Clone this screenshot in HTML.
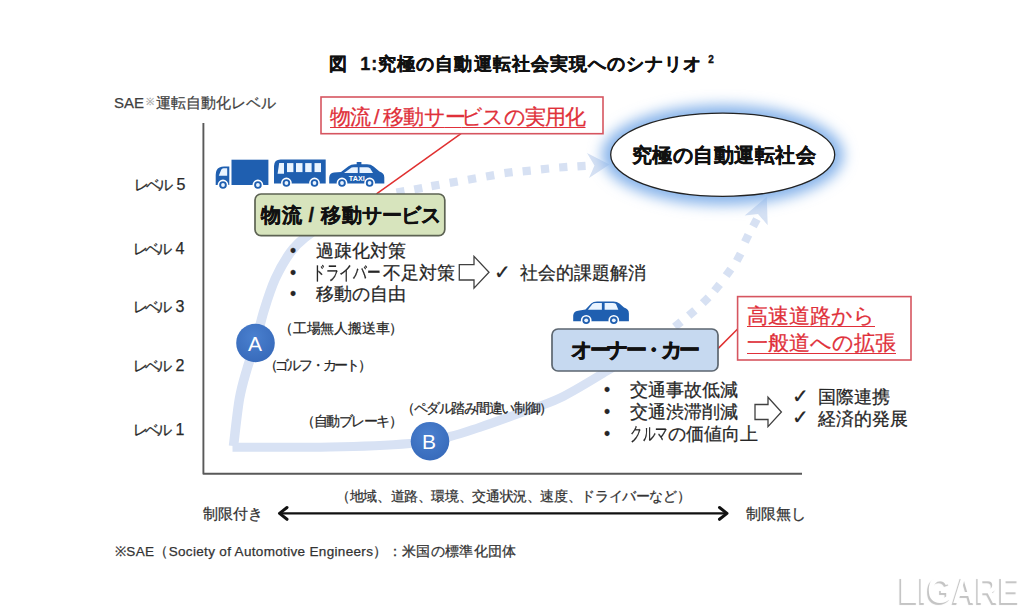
<!DOCTYPE html>
<html><head><meta charset="utf-8">
<style>
html,body{margin:0;padding:0;background:#fff;width:1024px;height:612px;overflow:hidden;}
body{position:relative;font-family:"Liberation Sans",sans-serif;color:#262626;}
.t{position:absolute;white-space:nowrap;line-height:1;-webkit-text-stroke:0.25px currentColor;}
.t u{text-decoration-thickness:1.4px;text-underline-offset:3.2px;}
.b{-webkit-text-stroke:0.35px currentColor;}
svg{position:absolute;left:0;top:0;}
</style></head><body>
<svg width="1024" height="612" viewBox="0 0 1024 612">
  <defs>
    <filter id="glow" x="-30%" y="-60%" width="160%" height="220%">
      <feGaussianBlur stdDeviation="7"/>
    </filter>
    <radialGradient id="cg" cx="45%" cy="35%" r="65%">
      <stop offset="0" stop-color="#4a80cf"/>
      <stop offset="1" stop-color="#386bbb"/>
    </radialGradient>
  </defs>
  <path d="M203.4 123 V473.8 H802" fill="none" stroke="#595959" stroke-width="1.9" stroke-linejoin="round"/>
  <path d="M233.5 446.0 C234.5 438.2 237.2 411.8 239.4 399.0 C241.7 386.2 244.3 378.3 247.0 369.0 C249.7 359.7 252.7 352.7 255.5 343.0 C258.3 333.3 260.6 321.5 263.9 310.8 C267.2 300.1 270.8 288.6 275.2 278.9 C279.6 269.2 285.2 259.5 290.2 252.6 C295.2 245.7 297.5 243.4 305.0 237.5 C312.5 231.6 325.0 222.6 335.0 217.0 C345.0 211.4 356.7 207.0 365.0 204.0 C373.3 201.0 381.7 199.8 385.0 199.0" fill="none" stroke="#d8e2f4" stroke-width="9.5"/>
  <path d="M232.5 447.3 C248.8 447.2 300.4 447.6 330.0 447.0 C359.6 446.4 390.0 445.1 410.0 443.4 C430.0 441.6 438.3 439.2 450.0 436.5 C461.7 433.8 468.3 431.1 480.0 427.2 C491.7 423.3 506.7 417.9 520.0 413.0 C533.3 408.1 545.7 404.9 560.0 398.0 C574.3 391.1 592.7 379.5 606.0 371.5 C619.3 363.5 630.3 356.0 640.0 350.0 C649.7 344.0 660.0 338.0 664.0 335.6" fill="none" stroke="#d8e2f4" stroke-width="9"/>
  <g fill="#d7e1f3"><rect x="396.4" y="187.7" width="8.2" height="8.2" transform="rotate(-9.9 400.5 191.8)"/><rect x="414.2" y="184.6" width="8.2" height="8.2" transform="rotate(-10.4 418.3 188.7)"/><rect x="431.3" y="181.3" width="8.2" height="8.2" transform="rotate(-10.4 435.4 185.4)"/><rect x="449.6" y="178.1" width="8.2" height="8.2" transform="rotate(-9.9 453.7 182.2)"/><rect x="467.9" y="174.9" width="8.2" height="8.2" transform="rotate(-9.9 472.0 179.0)"/><rect x="486.1" y="171.7" width="8.2" height="8.2" transform="rotate(-9.9 490.2 175.8)"/><rect x="504.4" y="168.5" width="8.2" height="8.2" transform="rotate(-7.5 508.5 172.6)"/><rect x="522.6" y="166.9" width="8.2" height="8.2" transform="rotate(-5.8 526.7 171.0)"/><rect x="540.9" y="164.8" width="8.2" height="8.2" transform="rotate(-5.9 545.0 168.9)"/><rect x="559.2" y="163.1" width="8.2" height="8.2" transform="rotate(-4.4 563.3 167.2)"/><rect x="577.4" y="162.0" width="8.2" height="8.2" transform="rotate(-3.5 581.5 166.1)"/></g>
  <g fill="#d7e1f3"><rect x="659.9" y="331.5" width="8.2" height="8.2" transform="rotate(-39.1 664.0 335.6)"/><rect x="673.8" y="320.2" width="8.2" height="8.2" transform="rotate(-39.1 677.9 324.3)"/><rect x="687.7" y="308.9" width="8.2" height="8.2" transform="rotate(-40.8 691.8 313.0)"/><rect x="701.6" y="296.2" width="8.2" height="8.2" transform="rotate(-45.1 705.7 300.3)"/><rect x="713.0" y="283.5" width="8.2" height="8.2" transform="rotate(-50.7 717.1 287.6)"/><rect x="724.4" y="268.3" width="8.2" height="8.2" transform="rotate(-54.6 728.5 272.4)"/><rect x="734.6" y="253.1" width="8.2" height="8.2" transform="rotate(-61.8 738.7 257.2)"/><rect x="742.6" y="234.3" width="8.2" height="8.2" transform="rotate(-64.7 746.7 238.4)"/><rect x="750.9" y="218.6" width="8.2" height="8.2" transform="rotate(-62.1 755.0 222.7)"/></g>
  <path d="M609.5 164.5 L587 153 L594.5 165.5 L589 178 Z" fill="#d6e1f3"/>
  <path d="M766.8 196.8 L744.7 215.4 L758 214 L767.7 225.2 Z" fill="#d6e1f3"/>
  <line x1="461" y1="133.7" x2="376.5" y2="193.8" stroke="#e03030" stroke-width="1.5"/>
  <line x1="718" y1="348.6" x2="737.6" y2="329" stroke="#e03030" stroke-width="1.5"/>
  <ellipse cx="722.7" cy="155" rx="121" ry="50" fill="#86b3ea" filter="url(#glow)"/>
  <ellipse cx="722.7" cy="154.7" rx="112" ry="41.6" fill="#fff" stroke="#222" stroke-width="1.3"/>
  <rect x="321" y="97" width="282" height="36.7" fill="#fff" stroke="#d65560" stroke-width="1.6"/>
  <rect x="737.6" y="296.6" width="173.4" height="63.4" fill="#fff" stroke="#d65560" stroke-width="1.6"/>
  <rect x="255" y="194" width="189.8" height="41.6" rx="6" fill="#d7e4bd" stroke="#5d6353" stroke-width="1.7"/>
  <rect x="552" y="329" width="166" height="42" rx="6" fill="#c6d9f0" stroke="#5c6670" stroke-width="1.7"/>
  <circle cx="255.5" cy="343" r="19.3" fill="url(#cg)"/>
  <circle cx="430" cy="441.2" r="19.3" fill="url(#cg)"/>
  <path d="M459.3 264.6 H474 V256.4 L489 272.3 L474 288.2 V280 H459.3 Z" fill="#fff" stroke="#404040" stroke-width="1.3"/>
  <path d="M755 404.5 H768 V397.3 L781.4 412 L768 426.6 V419.5 H755 Z" fill="#fff" stroke="#404040" stroke-width="1.3"/>
  <line x1="282" y1="513.4" x2="725" y2="513.4" stroke="#111" stroke-width="2.3"/>
  <path d="M287 507.5 L279.5 513.4 L287 519.3" fill="none" stroke="#111" stroke-width="3" stroke-linecap="round" stroke-linejoin="round"/>
  <path d="M719.5 507.5 L727 513.4 L719.5 519.3" fill="none" stroke="#111" stroke-width="3" stroke-linecap="round" stroke-linejoin="round"/>
  <g fill="#1f5fb0">
    <rect x="231.5" y="159.7" width="36.9" height="25.3"/>
    <path d="M215.7 185 V175 Q215.7 169 219.5 167.5 Q221.5 166.5 224 166.5 H229.3 V185 Z"/>
    <path d="M274 183.4 V166 Q274.3 159.6 280.5 159.6 H325.7 V183.4 Z"/>
    <path d="M329.2 183.6 V177.5 Q329.5 173.2 334 172.6 L341 172 L348.5 166.2 Q351 164.3 355 164.3 H367 Q371 164.3 373.5 166.5 L379.5 171.6 Q384.3 173 384.3 177.5 V183.6 Z"/>
    <rect x="356.7" y="162" width="4.7" height="3"/>
    <path d="M573.2 321.3 V315.5 Q573.5 311.2 578 310.7 L585.5 309.6 L591.2 303.6 Q593.2 301.4 597 301.4 H613.5 Q617 301.4 619.5 303.6 L624 307.6 Q628.9 309 628.9 313.5 V321.3 Z"/>
  </g>
  <g fill="#eaf4ff">
    <path d="M218.8 175.7 L221.2 169.8 Q221.8 168.3 223.5 168.3 H227.2 V175.7 Z"/>
    <path d="M277.6 173.7 L279.2 163.1 H284 V173.7 Z"/>
    <rect x="287" y="163.1" width="6.4" height="9"/>
    <rect x="296" y="163.1" width="6.5" height="9"/>
    <rect x="305.2" y="163.1" width="6.4" height="9"/>
    <rect x="314.5" y="163.1" width="6.5" height="9"/>
    <path d="M344 173 L350.2 168.4 Q351.4 167.2 353.5 167.2 H357.8 V173 Z"/>
    <path d="M359.5 167.2 H367 Q369 167.2 370.2 168.4 L373 173 H359.5 Z"/>
    <path d="M587.9 309.7 L592.4 304 Q593.5 302.9 595.5 302.9 H601.9 V309.7 Z"/>
    <path d="M604.6 302.9 H612.8 Q615 302.9 616 304 L618.3 309.7 H604.6 Z"/>
  </g>
  <text x="356.8" y="181.3" font-family="Liberation Sans" font-weight="bold" font-size="8" fill="#fff" text-anchor="middle" transform="translate(356.8 0) scale(0.9 1) translate(-356.8 0)">TAXI</text>
  <circle cx="223" cy="185" r="4.6" fill="#1f5fb0" stroke="#fff" stroke-width="1.6"/><circle cx="223" cy="185" r="1.9" fill="#eaf4ff"/>
  <circle cx="257.9" cy="185" r="4.6" fill="#1f5fb0" stroke="#fff" stroke-width="1.6"/><circle cx="257.9" cy="185" r="1.9" fill="#eaf4ff"/>
  <circle cx="286.4" cy="183" r="4.6" fill="#1f5fb0" stroke="#fff" stroke-width="1.6"/><circle cx="286.4" cy="183" r="1.9" fill="#eaf4ff"/>
  <circle cx="314.5" cy="183" r="4.6" fill="#1f5fb0" stroke="#fff" stroke-width="1.6"/><circle cx="314.5" cy="183" r="1.9" fill="#eaf4ff"/>
  <circle cx="342" cy="183" r="4.6" fill="#1f5fb0" stroke="#fff" stroke-width="1.6"/><circle cx="342" cy="183" r="1.9" fill="#eaf4ff"/>
  <circle cx="369.6" cy="183" r="4.6" fill="#1f5fb0" stroke="#fff" stroke-width="1.6"/><circle cx="369.6" cy="183" r="1.9" fill="#eaf4ff"/>
  <circle cx="586.2" cy="320.3" r="4.6" fill="#1f5fb0" stroke="#fff" stroke-width="1.6"/><circle cx="586.2" cy="320.3" r="1.9" fill="#eaf4ff"/>
  <circle cx="613.8" cy="320.3" r="4.6" fill="#1f5fb0" stroke="#fff" stroke-width="1.6"/><circle cx="613.8" cy="320.3" r="1.9" fill="#eaf4ff"/>
</svg>

<div class="t b" style="left:329px;top:55px;font-size:18px;font-weight:bold;color:#111;letter-spacing:1.05px;">図&nbsp;&nbsp;1:究極の自動運転社会実現へのシナリオ <sup style="font-size:10px;letter-spacing:0">2</sup></div>
<div class="t" style="left:114px;top:95px;font-size:15px;color:#404040;">SAE<span style="color:#aaa;font-size:10px;vertical-align:3px;margin:0 2px">※</span>運転自動化レベル</div>
<div class="t" style="left:134px;top:177px;font-size:15px;color:#2a2a2a;"><span style="letter-spacing:-3px">レベル</span><span style="font-size:16px;margin-left:6.5px">5</span></div>
<div class="t" style="left:133px;top:241px;font-size:15px;color:#2a2a2a;"><span style="letter-spacing:-3px">レベル</span><span style="font-size:16px;margin-left:6.5px">4</span></div>
<div class="t" style="left:133px;top:299px;font-size:15px;color:#2a2a2a;"><span style="letter-spacing:-3px">レベル</span><span style="font-size:16px;margin-left:6.5px">3</span></div>
<div class="t" style="left:133px;top:358px;font-size:15px;color:#2a2a2a;"><span style="letter-spacing:-3px">レベル</span><span style="font-size:16px;margin-left:6.5px">2</span></div>
<div class="t" style="left:133px;top:422px;font-size:15px;color:#2a2a2a;"><span style="letter-spacing:-3px">レベル</span><span style="font-size:16px;margin-left:6.5px">1</span></div>

<div class="t" style="left:330px;top:105.5px;font-size:21px;letter-spacing:-0.8px;color:#e0303a;text-decoration:underline;text-decoration-thickness:1.4px;text-underline-offset:2.6px;">物流&thinsp;/&thinsp;&#8202;移動サ<span style="letter-spacing:-4.5px">ー</span>ビスの実用化</div>
<div class="t b" style="left:632px;top:145px;font-size:20px;letter-spacing:0.45px;font-weight:bold;color:#111;">究極の自動運転社会</div>
<div class="t b" style="left:261px;top:205px;font-size:20px;letter-spacing:0.5px;font-weight:bold;color:#111;">物流&thinsp;<span style="margin:0 2px">/</span>&thinsp;移動<span style="letter-spacing:-0.3px">サービス</span></div>

<div class="t" style="left:290px;top:241px;font-size:17.5px;line-height:21.5px;">•<br>•<br>•</div>
<div class="t" style="left:316px;top:241px;font-size:17.5px;line-height:21.5px;">過疎化対策<br><span style="display:inline-block;width:71px;margin-left:-4px;font-size:19px;line-height:15px;transform:scaleX(0.72);transform-origin:0 0;">ドライバー</span>不足対策<br>移動の自由</div>
<div class="t" style="left:493.5px;top:261.5px;font-size:20px;">✓</div>
<div class="t" style="left:520px;top:265px;font-size:17.5px;">社会的課題解消</div>

<div class="t" style="left:279px;top:322px;font-size:13.5px;letter-spacing:-0.2px;">（工場無人搬送車）</div>
<div class="t" style="left:263.5px;top:359px;font-size:13.5px;letter-spacing:-2.2px;">（ゴルフ・カート）</div>
<div class="t" style="left:301px;top:415px;font-size:13.5px;letter-spacing:-1.5px;">（自動ブレーキ）</div>
<div class="t" style="left:401px;top:402px;font-size:13.5px;letter-spacing:-1.45px;">（ペダル踏み間違い制御）</div>
<div class="t" style="left:248px;top:332.7px;font-size:21px;color:#fff;-webkit-text-stroke:0;">A</div>
<div class="t" style="left:422px;top:430.8px;font-size:21px;color:#fff;-webkit-text-stroke:0;">B</div>

<div class="t b" style="-webkit-text-stroke:0.55px #111;left:571px;top:339px;font-size:21px;letter-spacing:-3.5px;font-weight:bold;color:#111;">オーナー・カー</div>
<div class="t" style="left:747px;top:302px;font-size:20.7px;line-height:27px;color:#e0303a;text-decoration-thickness:1.4px;text-underline-offset:3.2px;"><u>高速道路から</u><br><u>一般道への拡張</u></div>

<div class="t" style="left:604px;top:380.3px;font-size:17.5px;line-height:21.7px;">•<br>•<br>•</div>
<div class="t" style="left:630px;top:380.3px;font-size:17.5px;line-height:21.7px;">交通事故低減<br>交通渋滞削減<br><span style="display:inline-block;width:38.4px;font-size:19px;line-height:15px;transform:scaleX(0.66);transform-origin:0 0;">クルマ</span><span style="letter-spacing:-0.8px">の</span>価値向上</div>
<div class="t" style="left:791.5px;top:385.5px;font-size:20px;line-height:21.5px;">✓<br>✓</div>
<div class="t" style="left:818px;top:387px;font-size:17.5px;line-height:21.5px;">国際連携<br>経済的発展</div>

<div class="t" style="left:336px;top:489.7px;font-size:13.7px;letter-spacing:-0.37px;color:#333;">（地域、道路、環境、交通状況、速度、ドライバーなど）</div>
<div class="t" style="left:203px;top:506px;font-size:15px;color:#333;">制限付き</div>
<div class="t" style="left:745.5px;top:506px;font-size:15px;color:#333;">制限無し</div>
<div class="t" style="left:115px;top:544.5px;font-size:13.5px;letter-spacing:0.33px;color:#333;">※SAE（Society of Automotive Engineers）：米国の標準化団体</div>

<div class="t" style="left:899px;top:572px;font-size:37.5px;font-weight:bold;color:#fff;-webkit-text-stroke:0;transform-origin:0 0;transform:scaleX(0.855);text-shadow:-2px 1.5px 0.8px #c4c4c4;">LIGARE</div>
</body></html>
